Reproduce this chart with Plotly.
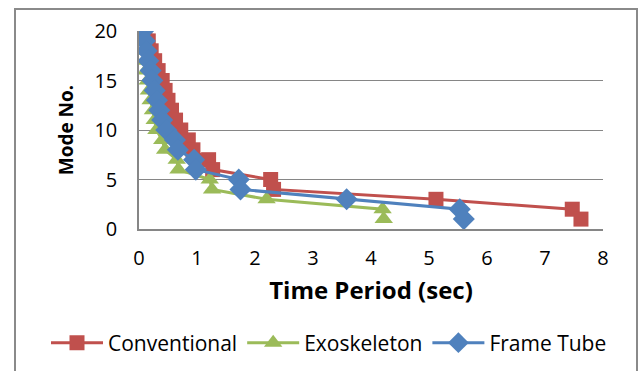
import plotly.graph_objects as go

modes = list(range(20, 0, -1))
conventional = [0.10, 0.16, 0.21, 0.27, 0.33, 0.40, 0.45, 0.50, 0.56, 0.63,
                0.72, 0.85, 0.93, 1.20, 1.27, 2.27, 2.32, 5.12, 7.47, 7.62]
exoskeleton = [0.03, 0.05, 0.08, 0.10, 0.12, 0.15, 0.17, 0.20, 0.24, 0.27,
               0.30, 0.40, 0.45, 0.65, 0.68, 1.22, 1.26, 2.20, 4.20, 4.22]
frame_tube = [0.07, 0.10, 0.13, 0.16, 0.20, 0.23, 0.27, 0.31, 0.35, 0.40,
              0.47, 0.62, 0.67, 0.95, 0.98, 1.72, 1.75, 3.58, 5.53, 5.60]

FONT = "Open Sans"
fig = go.Figure()
fig.add_trace(go.Scatter(x=conventional, y=modes, name="Conventional", mode="lines+markers",
                         line=dict(color="#C0504D", width=3),
                         marker=dict(symbol="square", size=15, color="#C0504D")))
fig.add_trace(go.Scatter(x=exoskeleton, y=modes, name="Exoskeleton", mode="lines+markers",
                         line=dict(color="#9BBB59", width=3),
                         marker=dict(symbol="triangle-up", size=16, color="#9BBB59")))
fig.add_trace(go.Scatter(x=frame_tube, y=modes, name="Frame Tube", mode="lines+markers",
                         line=dict(color="#4F81BD", width=3),
                         marker=dict(symbol="diamond", size=17, color="#4F81BD")))

fig.update_layout(
    width=640, height=371,
    margin=dict(l=139, r=37, t=31, b=142, autoexpand=False),
    paper_bgcolor="white", plot_bgcolor="white",
    font=dict(family=FONT, size=20, color="#000"),
    showlegend=True,
    legend=dict(orientation="h", x=(46 - 139) / 464, xanchor="left",
                y=(229 - 343) / 198, yanchor="middle",
                font=dict(size=21), itemwidth=52, tracegroupgap=0,
                bgcolor="rgba(0,0,0,0)"),
    xaxis=dict(range=[0, 8], dtick=1, showgrid=False, zeroline=False,
               showline=True, linecolor="#868686", linewidth=1.5,
               ticks="outside", ticklen=10, tickcolor="rgba(0,0,0,0)",
               tickfont=dict(size=20),
               title=dict(text="<b>Time Period (sec)</b>", font=dict(size=24), standoff=12)),
    yaxis=dict(range=[0, 20], dtick=5, showgrid=True, gridcolor="#868686", gridwidth=1.2,
               zeroline=False, showline=True, linecolor="#868686", linewidth=1.5,
               ticks="outside", ticklen=16, tickcolor="rgba(0,0,0,0)",
               tickfont=dict(size=20),
               title=dict(text="<b>Mode No.</b>", font=dict(size=19), standoff=16)),
    shapes=[dict(type="rect", xref="paper", yref="paper",
                 x0=(15 - 139) / 464, x1=(637 - 139) / 464,
                 y0=(229 - 400) / 198, y1=(229 - 9) / 198,
                 line=dict(color="#8A8A8A", width=2), layer="below")],
)

fig.write_html("out.html")
